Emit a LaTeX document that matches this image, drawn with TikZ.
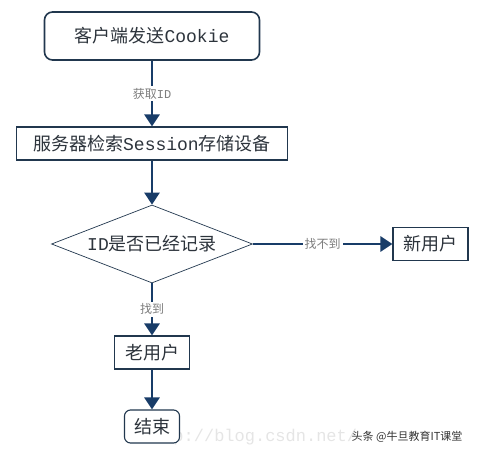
\documentclass[tikz,border=0pt]{standalone}
\usepackage{fontspec}
\newfontfamily\cjk{Noto Sans CJK SC}
\setmonofont{Liberation Mono}
\usetikzlibrary{shapes.geometric,arrows.meta,positioning}
\definecolor{boxline}{RGB}{33,55,78}
\definecolor{flowblue}{RGB}{24,60,104}
\definecolor{textdark}{RGB}{45,52,60}
\definecolor{labelgray}{RGB}{125,125,125}

\begin{document}
\begin{tikzpicture}[x=1pt, y=-1pt,
    box/.style={draw=boxline, line width=1.1pt, fill=white, text=textdark, inner sep=0pt,
        font=\fontsize{18}{20}\selectfont\cjk},
    roundbox/.style={box, rounded corners=8pt, line width=1.6pt},
    decision/.style={box, diamond, aspect=2.58, line width=0.7pt},
    flow/.style={draw=flowblue, line width=2.6pt, -{Triangle[length=12pt, width=15pt]}},
    lbl/.style={fill=white, text=labelgray, inner sep=2pt, font=\fontsize{12}{14}\selectfont\cjk}]
    \useasboundingbox (0,0) rectangle (481,454);
    % watermark behind the chart
    \node[text=black!10, font=\fontsize{17}{19}\selectfont\ttfamily] (csdn) at (250,437) {http://blog.csdn.net/};
    % steps
    \node[roundbox, minimum width=215pt, minimum height=48pt] (client) at (152,36)
        {客户端发送{\ttfamily Cookie}};
    \node[box, minimum width=271pt, minimum height=33pt] (server) at (152,143.5)
        {服务器检索{\ttfamily Session}存储设备};
    \node[decision, minimum width=201pt, minimum height=78pt] (check) at (152,244)
        {{\ttfamily ID}是否已经记录};
    \node[box, minimum width=75pt, minimum height=33pt] (newuser) at (430.5,244)
        {新用户};
    \node[box, minimum width=75pt, minimum height=33pt] (olduser) at (152,352.5)
        {老用户};
    \node[roundbox, line width=1.1pt, rounded corners=6pt, minimum width=55pt, minimum height=33pt] (finish) at (152,426.5)
        {结束};
    % connectors
    \draw[flow] (client) -- node[lbl] {获取{\ttfamily ID}} (server);
    \draw[flow] (server) -- (check);
    \draw[flow] (check) -- node[lbl] {找不到} (newuser);
    \draw[flow] (check) -- node[lbl] {找到} (olduser);
    \draw[flow] (olduser) -- (finish);
    % watermark
    \node[text=black!80, font=\fontsize{11}{13}\selectfont\cjk] (toutiao) at (407,437) {头条 @牛旦教育IT课堂};
\end{tikzpicture}
\end{document}
